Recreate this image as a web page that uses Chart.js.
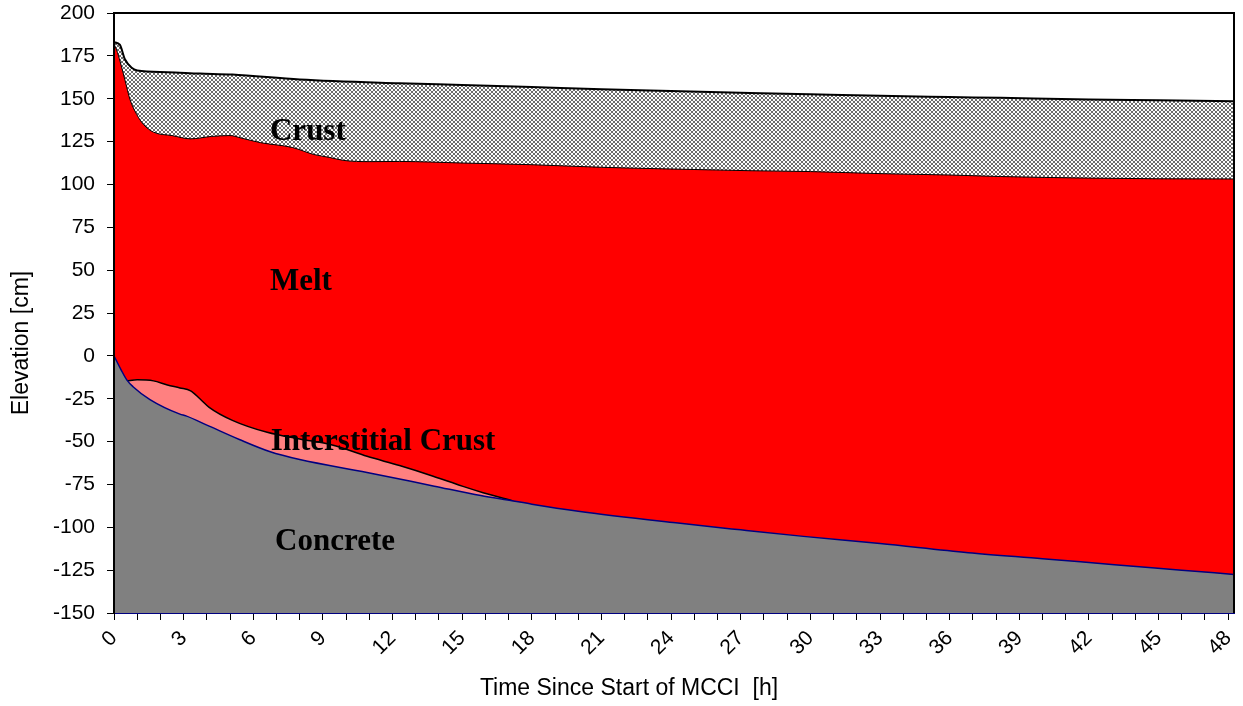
<!DOCTYPE html>
<html>
<head>
<meta charset="utf-8">
<script src="https://cdn.jsdelivr.net/npm/chart.js@4.4.1/dist/chart.umd.min.js"></script>
<style>
  html, body { margin: 0; padding: 0; background: #fff; }
  #wrap { width: 1243px; height: 706px; }
</style>
</head>
<body>
<div id="wrap"><canvas id="chart" width="1243" height="706"></canvas></div>
<script>
// time [h] and elevation [cm], one pair of arrays per boundary
const crustTime = [0, 0.25, 0.47, 0.76, 1, 2.3, 3.7, 5.1, 8, 12.3, 15, 18, 21, 24, 27.4, 30, 33, 36, 38.2, 42, 45, 48.25];
const crustTop  = [183, 181.5, 173, 168, 166.5, 165.5, 164.7, 164.1, 161.2, 159, 158, 156.8, 155.5, 154.5, 153.4, 152.6, 151.7, 151, 150.5, 149.6, 149.1, 148.5];

const meltTime = [0, 0.15, 0.47, 0.69, 0.98, 1.27, 1.7, 2.5, 3.3, 4.2, 5, 5.5, 6.3, 7.7, 8.6, 9.3, 9.9, 11, 12.3, 15, 18, 21, 24, 27.4, 30, 33, 36, 38.2, 42, 45, 48.25];
const meltTop  = [182, 177, 161, 149.5, 140.8, 135, 130.5, 128.5, 126.6, 128, 128.5, 127, 124.4, 121.5, 117.5, 115.7, 114, 113.3, 113.4, 112.5, 111.5, 110, 109, 108, 107.5, 106.3, 105.5, 104.6, 103.7, 103.3, 103.2];

const interTime = [0.55, 1, 1.7, 2.3, 2.84, 3.3, 3.7, 4.1, 5.1, 6.6, 8, 9.4, 10.9, 12.3, 13.75, 15, 15.9, 17.2];
const interTop  = [-14.6, -14, -14.6, -17, -18.7, -20.4, -25, -30, -37.6, -44.6, -48.5, -52, -58.6, -64, -70.2, -76, -79.8, -84.6];

const concTime = [0, 0.3, 0.55, 0.82, 1.55, 2.84, 3.1, 4.1, 5.4, 6.7, 8, 10.9, 13.8, 15.8, 17.2, 18, 20, 24.2, 27, 29.7, 33, 36.8, 40, 43.1, 46, 48.25];
const concTop  = [0, -8, -14, -18, -25.5, -34, -35, -41, -48.8, -55.8, -60.5, -68, -76, -81.5, -84.6, -86.5, -90.6, -97.4, -101.5, -105.3, -109.5, -114.8, -118.3, -121.8, -125, -127.5];

// one tick mark per hour, a label every third hour
const hourTicks = Array.from({ length: 49 }, (_, i) => i);

const regionLabels = [
  { text: "Crust", t: 6.72, y: 126 },
  { text: "Melt", t: 6.72, y: 38.5 },
  { text: "Interstitial Crust", t: 6.75, y: -54.7 },
  { text: "Concrete", t: 6.94, y: -113 }
];

function pts(xs, ys) {
  return xs.map((x, i) => ({ x: x, y: ys[i] }));
}

// small cross-hatch for the crust
function hatch() {
  const c = document.createElement("canvas");
  c.width = 4; c.height = 4;
  const g = c.getContext("2d");
  g.fillStyle = "#fff";
  g.fillRect(0, 0, 4, 4);
  g.fillStyle = "#6e6e6e";
  for (let i = 0; i < 4; i++) {
    g.fillRect(i, i, 1, 1);
    g.fillRect(3 - i, i, 1, 1);
  }
  return g.createPattern(c, "repeat");
}

const ctx = document.getElementById("chart").getContext("2d");

const extras = {
  id: "extras",
  afterDraw(chart) {
    const g = chart.ctx;
    const a = chart.chartArea;
    const xs = chart.scales.x, ys = chart.scales.y;
    g.save();
    g.strokeStyle = "#000";
    g.lineWidth = 2;
    g.beginPath();
    g.moveTo(a.left, a.bottom);
    g.lineTo(a.left, a.top);
    g.lineTo(a.right, a.top);
    g.lineTo(a.right, a.bottom);
    g.stroke();

    g.fillStyle = "#000";
    g.font = "bold 31px 'Liberation Serif', 'Times New Roman', serif";
    g.textAlign = "left";
    g.textBaseline = "alphabetic";
    regionLabels.forEach(l => {
      g.fillText(l.text, xs.getPixelForValue(l.t), ys.getPixelForValue(l.y));
    });

    g.font = "23px 'Liberation Sans', Arial, sans-serif";
    g.textAlign = "center";
    g.textBaseline = "middle";
    g.fillText("Time Since Start of MCCI  [h]", 629, 689);
    g.translate(22, 343);
    g.rotate(-Math.PI / 2);
    g.fillText("Elevation [cm]", 0, 0);
    g.restore();
  }
};

new Chart(ctx, {
  type: "line",
  data: {
    datasets: [
      {
        label: "Concrete",
        data: pts(concTime, concTop),
        borderColor: "#000080",
        borderWidth: 1.5,
        backgroundColor: "#808080",
        fill: "start",
        pointRadius: 0,
        cubicInterpolationMode: "monotone"
      },
      {
        label: "Interstitial Crust",
        data: pts(interTime, interTop),
        borderColor: "#000",
        borderWidth: 1.5,
        backgroundColor: "#ff8080",
        fill: "start",
        pointRadius: 0,
        cubicInterpolationMode: "monotone"
      },
      {
        label: "Melt",
        data: pts(meltTime, meltTop),
        borderColor: "#000",
        borderWidth: 1,
        backgroundColor: "#ff0000",
        fill: "start",
        pointRadius: 0,
        cubicInterpolationMode: "monotone"
      },
      {
        label: "Crust",
        data: pts(crustTime, crustTop),
        borderColor: "#000",
        borderWidth: 2,
        backgroundColor: hatch(),
        fill: "start",
        pointRadius: 0,
        cubicInterpolationMode: "monotone"
      }
    ]
  },
  options: {
    responsive: false,
    animation: false,
    layout: { padding: { top: 13, right: 9, left: 0, bottom: 0 } },
    plugins: {
      legend: { display: false },
      tooltip: { enabled: false }
    },
    scales: {
      x: {
        type: "linear",
        min: 0,
        max: 48.25,
        afterBuildTicks: s => { s.ticks = hourTicks.map(v => ({ value: v })); },
        afterFit: s => { s.height = 93; s.paddingLeft = 0; s.paddingRight = 0; },
        ticks: {
          stepSize: 1,
          autoSkip: false,
          maxRotation: 45,
          minRotation: 45,
          padding: 6,
          color: "#000",
          font: { family: "'Liberation Sans', Arial, sans-serif", size: 21 },
          callback: v => (v % 3 === 0 ? v : "")
        },
        grid: { drawOnChartArea: false, drawTicks: true, tickLength: 7, color: "#000" },
        border: { color: "#000080", width: 2 }
      },
      y: {
        min: -150,
        max: 200,
        afterFit: s => { s.width = 114; s.paddingTop = 0; s.paddingBottom = 0; },
        ticks: {
          stepSize: 25,
          padding: 12,
          color: "#000",
          font: { family: "'Liberation Sans', Arial, sans-serif", size: 21 }
        },
        grid: { drawOnChartArea: false, drawTicks: true, tickLength: 7, color: "#000" },
        border: { color: "#000", width: 2 }
      }
    }
  },
  plugins: [extras]
});
</script>
</body>
</html>
